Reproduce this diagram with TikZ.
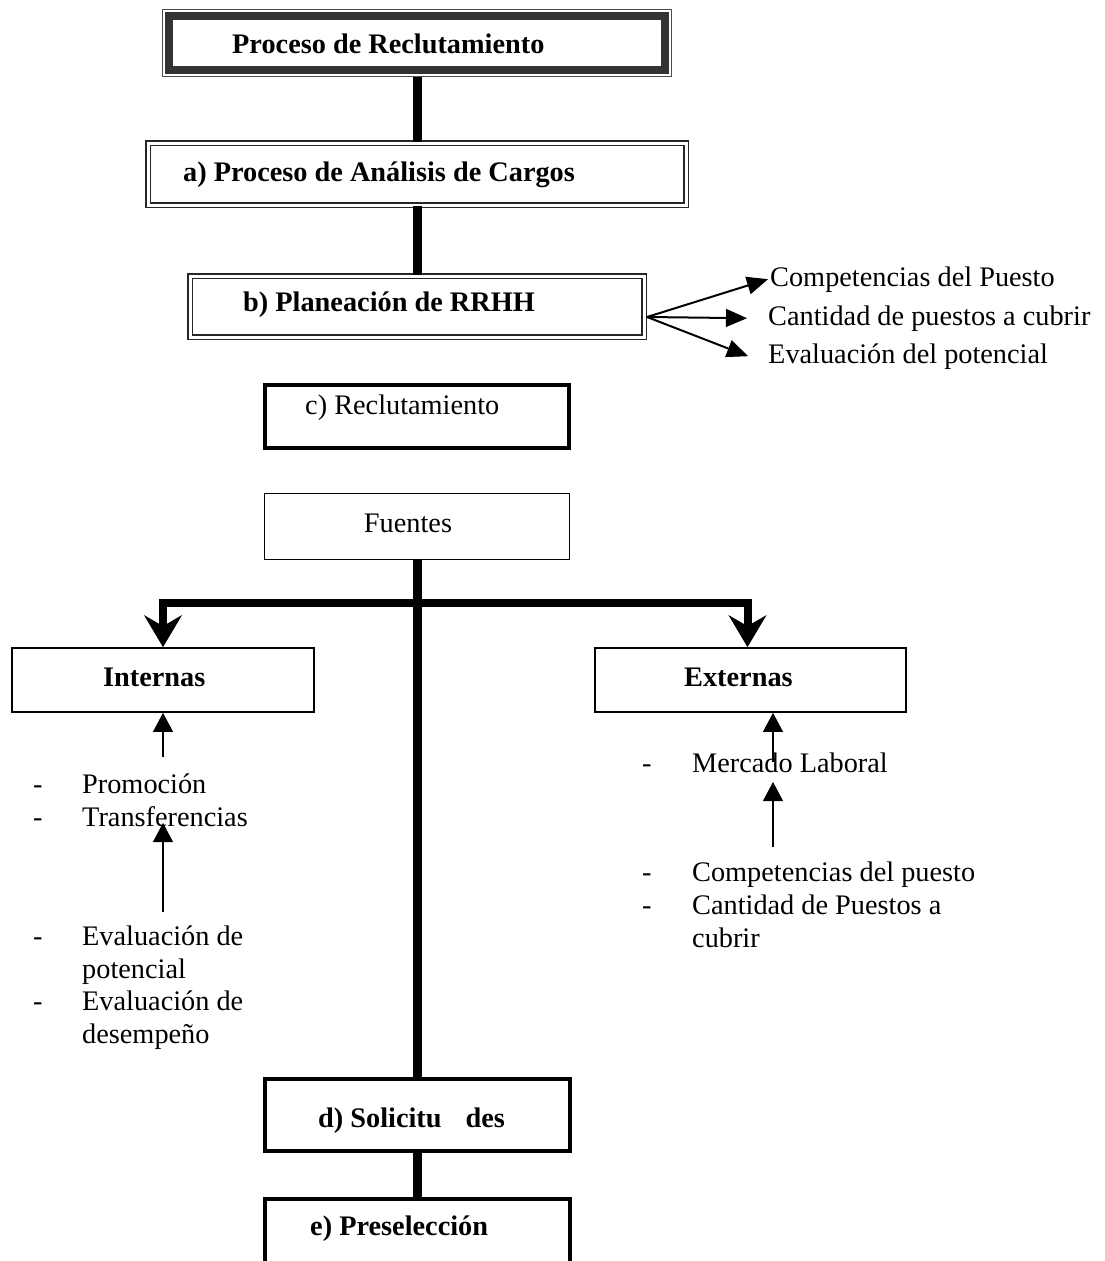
\documentclass[tikz,border=0pt]{standalone}
\usepackage{fontspec}
\setmainfont{Liberation Serif}
\usetikzlibrary{arrows.meta,positioning}

\begin{document}
\begin{tikzpicture}[x=1pt,y=-1pt,
    txt/.style={inner sep=0pt, anchor=base west, font=\fontsize{28.3}{28}\selectfont},
    btxt/.style={txt, font=\fontsize{28.3}{28}\selectfont\bfseries},
    ltxt/.style={txt, align=left, font=\fontsize{28.3}{33}\selectfont},
    dbox/.style={draw=black!85, line width=1.5pt, double, double distance=3pt, inner sep=0pt},
    kbox/.style={draw, line width=4.5pt, inner sep=0pt},
    thinbox/.style={draw, line width=1.8pt, inner sep=0pt},
    trunk/.style={line width=9pt},
    bigarrow/.style={line width=8pt, -{Stealth[length=32pt,width=38pt,inset=11pt,line width=1pt]}},
    smallarrow/.style={line width=2pt, -{Triangle[length=19pt,width=20pt,line width=1pt]}},
    fanarrow/.style={line width=2pt, -{Triangle[length=21pt,width=18pt,line width=1pt]}}]
      \useasboundingbox (0,0) rectangle (1104,1261);
      \node[draw=black!70, line width=1.5pt, minimum width=509pt, minimum height=67pt, inner sep=0pt] (top) at (417,43) {};
      \draw[line width=8pt, black!80] ([shift={(7pt,-7pt)}]top.north west) rectangle ([shift={(-7pt,7pt)}]top.south east);
      \node[btxt] (tTop) at (232,53) {Proceso de Reclutamiento};

      \node[dbox, minimum width=538pt, minimum height=62pt] (ana) at (417,174) {};
      \node[btxt] (tAna) at (183,181) {a) Proceso de Análisis de Cargos};
      \node[dbox, minimum width=454pt, minimum height=61pt] (plan) at (417,306.5) {};
      \node[btxt] (tPlan) at (243,311) {b) Planeación de RRHH};
      \node[kbox, minimum width=304pt, minimum height=63pt] (recl) at (417,416.5) {};
      \node[txt] (tRecl) at (305,414) {c) Reclutamiento};
      \node[thinbox, minimum width=305pt, minimum height=66pt] (fuen) at (417,526.5) {};
      \node[txt, anchor=base] (tFuen) at (408,532) {Fuentes};

      \node[thinbox, minimum width=302pt, minimum height=64pt] (int) at (163,680) {};
      \node[btxt] (tInt) at (103,686) {Internas};
      \node[thinbox, minimum width=311pt, minimum height=64pt] (ext) at (750.5,680) {};
      \node[btxt] (tExt) at (684,686) {Externas};

      \node[kbox, minimum width=305pt, minimum height=72pt] (soli) at (417.5,1115) {};
      \node[btxt] (tSoli) at (318,1127) {d) Solicitu\hspace{24pt}des};
      \node[kbox, minimum width=305pt, minimum height=90pt] (pres) at (417.5,1244) {};
      \node[btxt] (tPres) at (310,1235) {e) Preselección};

      \draw[trunk] (top) -- (ana);
      \draw[trunk] (ana) -- (plan);
      \draw[trunk] (fuen.south) -- (fuen.south |- soli.north);
      \draw[trunk] (soli.south) -- (pres.north);
      \coordinate (split) at (417,603);
      \draw[bigarrow] (split) -| (int.north);
      \draw[bigarrow] (split) -| ([xshift=-3pt]ext.north);

      \node[txt] (tComp) at (770,286) {Competencias del Puesto};
      \node[txt] (tCant) at (768,325) {Cantidad de puestos a cubrir};
      \node[txt] (tEvp) at (768,363) {Evaluación del potencial};
      \coordinate (fan) at (647,317);
      \draw[fanarrow] (fan) -- ([xshift=-2pt]tComp.west);
      \draw[fanarrow] (fan) -- ([xshift=-21pt]tCant.west);
      \draw[fanarrow] (fan) -- ([xshift=-20pt]tEvp.west);

      \node[ltxt] (lInt) at (33,826) {\makebox[49pt][l]{-}Promoción\\\makebox[49pt][l]{-}Transferencias};
      \node[ltxt, font=\fontsize{28.3}{32.5}\selectfont] (lEval) at (33,1043) {\makebox[49pt][l]{-}Evaluación de\\\hspace*{49pt}potencial\\\makebox[49pt][l]{-}Evaluación de\\\hspace*{49pt}desempeño};
      \coordinate (p1) at (163,757);
      \draw[smallarrow] (p1) -- (p1 |- int.south);
      \coordinate (p2) at (163,912);
      \coordinate (p3) at (163,823);
      \draw[smallarrow] (p2) -- (p3);

      \node[txt] (lMerc) at (642,772) {\makebox[50pt][l]{-}Mercado Laboral};
      \node[ltxt] (lExt) at (642,947) {\makebox[50pt][l]{-}Competencias del puesto\\\makebox[50pt][l]{-}Cantidad de Puestos a\\\hspace*{50pt}cubrir};
      \coordinate (m1) at (773,762);
      \draw[smallarrow] (m1) -- (m1 |- ext.south);
      \coordinate (m2) at (773,847);
      \coordinate (m3) at (773,782);
      \draw[smallarrow] (m2) -- (m3);
\end{tikzpicture}
\end{document}
